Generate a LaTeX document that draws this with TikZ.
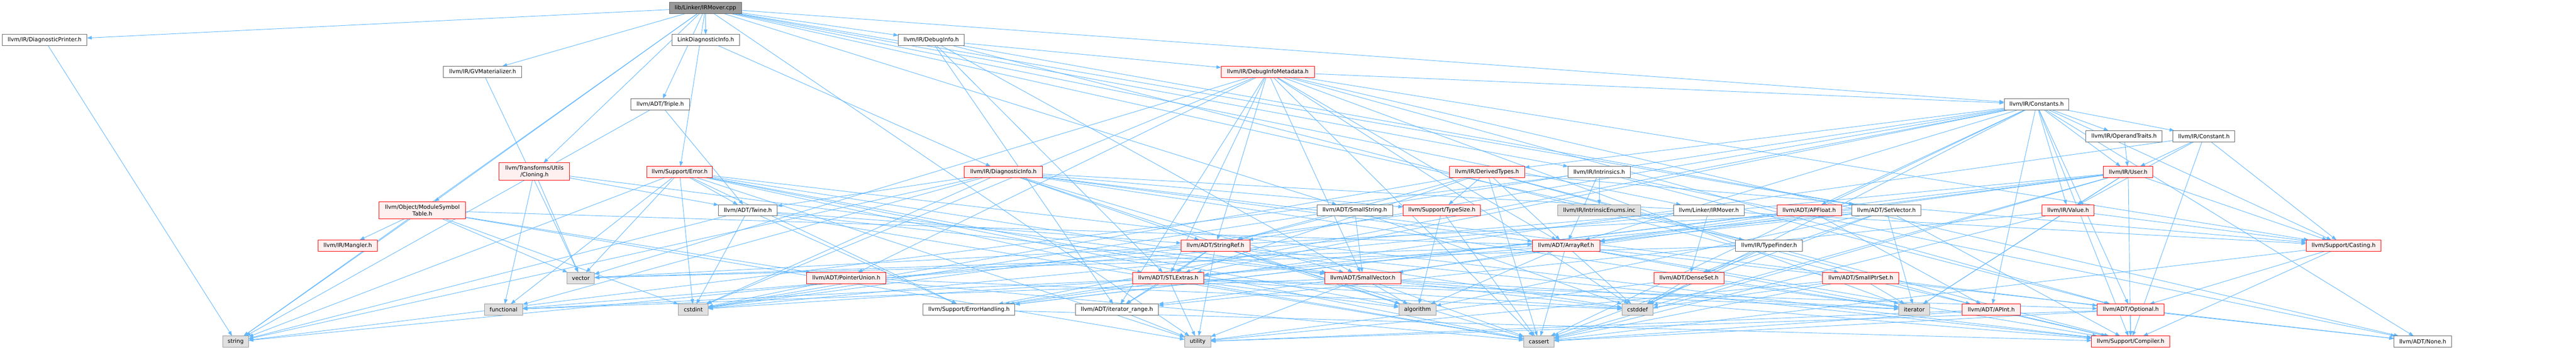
\documentclass[tikz,border=0pt]{standalone}
\usepackage{fontspec}
\setmainfont{DejaVu Sans}
\usetikzlibrary{arrows.meta,backgrounds}
\newlength{\du}
\setlength{\du}{1pt}
\newcommand{\diafont}{\fontsize{12.8}{15}\selectfont}

\begin{document}
\begin{tikzpicture}[even odd rule,
  diabox/.style={rectangle,inner sep=0pt,outer sep=0pt,minimum height=26\du,line width=1.2\du,font=\diafont,text=black,align=center},
  diafile/.style={diabox,draw=dialinecolor,fill=white},
  diatrunc/.style={diabox,draw=diatrunccolor,fill=diatruncfill},
  diasys/.style={diabox,draw=diasysline,fill=diasysfill},
  diaroot/.style={diabox,draw=dialinecolor,fill=diarootfill},
  diaedge/.style={draw=diaedgecolor,line width=1.1pt,-{Triangle[length=11pt,width=8pt]}}]
\pgftransformxscale{1.000000}
\pgftransformyscale{-1.000000}
\definecolor{dialinecolor}{rgb}{0.400000, 0.400000, 0.400000}
\definecolor{diaedgecolor}{rgb}{0.388235, 0.721569, 1.000000}
\definecolor{diatrunccolor}{rgb}{1.000000, 0.000000, 0.000000}
\definecolor{diatruncfill}{rgb}{1.000000, 0.941176, 0.941176}
\definecolor{diasysline}{rgb}{0.600000, 0.600000, 0.600000}
\definecolor{diasysfill}{rgb}{0.878431, 0.878431, 0.878431}
\definecolor{diarootfill}{rgb}{0.600000, 0.600000, 0.600000}
\useasboundingbox (0.000000\du,0.000000\du) rectangle (5919.000000\du,799.000000\du);
% row 0
\node[diaroot,minimum width=166\du] (cpp) at (1621.000000\du,18.000000\du){lib/Linker/IRMover.cpp};
% row 1
\node[diafile,minimum width=195\du] (diagprinter) at (102.500000\du,92.000000\du){llvm/IR/DiagnosticPrinter.h};
\node[diafile,minimum width=155\du] (linkdiag) at (1621.500000\du,92.000000\du){LinkDiagnosticInfo.h};
\node[diafile,minimum width=151\du] (debuginfo) at (2139.500000\du,92.000000\du){llvm/IR/DebugInfo.h};
% row 2
\node[diafile,minimum width=180\du] (gvmat) at (1109.000000\du,165.000000\du){llvm/IR/GVMaterializer.h};
\node[diatrunc,minimum width=214\du] (dimeta) at (2913.000000\du,165.000000\du){llvm/IR/DebugInfoMetadata.h};
% row 3
\node[diafile,minimum width=134\du] (triple) at (1517.000000\du,239.500000\du){llvm/ADT/Triple.h};
\node[diafile,minimum width=149\du] (constants) at (4679.500000\du,239.500000\du){llvm/IR/Constants.h};
\node[diafile,minimum width=175\du] (opertraits) at (4880.500000\du,313.000000\du){llvm/IR/OperandTraits.h};
\node[diafile,minimum width=142\du] (constant) at (5064.000000\du,313.000000\du){llvm/IR/Constant.h};
% row 4
\node[diatrunc,minimum width=162\du,minimum height=40\du] (cloning) at (1228.000000\du,394.000000\du){llvm/Transforms/Utils\\/Cloning.h};
\node[diatrunc,minimum width=151\du] (error) at (1561.500000\du,395.000000\du){llvm/Support/Error.h};
\node[diatrunc,minimum width=179\du] (diaginfo) at (2305.500000\du,395.000000\du){llvm/IR/DiagnosticInfo.h};
\node[diatrunc,minimum width=172\du] (derived) at (3417.000000\du,395.000000\du){llvm/IR/DerivedTypes.h};
\node[diafile,minimum width=143\du] (intrinsics) at (3674.500000\du,395.000000\du){llvm/IR/Intrinsics.h};
\node[diatrunc,minimum width=114\du] (user) at (4890.000000\du,395.000000\du){llvm/IR/User.h};
% row 5
\node[diatrunc,minimum width=199\du,minimum height=40\du] (modsymtab) at (970.500000\du,483.000000\du){llvm/Object/ModuleSymbol\\Table.h};
\node[diafile,minimum width=135\du] (twine) at (1718.500000\du,483.000000\du){llvm/ADT/Twine.h};
\node[diafile,minimum width=174\du] (smallstring) at (3113.000000\du,483.000000\du){llvm/ADT/SmallString.h};
\node[diatrunc,minimum width=178\du] (typesize) at (3313.000000\du,483.000000\du){llvm/Support/TypeSize.h};
\node[diasys,minimum width=191\du] (intrenums) at (3674.500000\du,483.000000\du){llvm/IR/IntrinsicEnums.inc};
\node[diafile,minimum width=163\du] (irmoverh) at (3926.500000\du,483.000000\du){llvm/Linker/IRMover.h};
\node[diatrunc,minimum width=148\du] (apfloat) at (4157.000000\du,483.000000\du){llvm/ADT/APFloat.h};
\node[diafile,minimum width=159\du] (setvector) at (4334.500000\du,483.000000\du){llvm/ADT/SetVector.h};
\node[diatrunc,minimum width=120\du] (value) at (4752.000000\du,483.000000\du){llvm/IR/Value.h};
% row 6
\node[diatrunc,minimum width=136\du] (mangler) at (799.000000\du,564.000000\du){llvm/IR/Mangler.h};
\node[diatrunc,minimum width=158\du] (stringref) at (2793.000000\du,564.000000\du){llvm/ADT/StringRef.h};
\node[diatrunc,minimum width=155\du] (arrayref) at (3598.500000\du,564.000000\du){llvm/ADT/ArrayRef.h};
\node[diafile,minimum width=154\du] (typefinder) at (4065.000000\du,564.000000\du){llvm/IR/TypeFinder.h};
\node[diatrunc,minimum width=172\du] (casting) at (5385.000000\du,564.000000\du){llvm/Support/Casting.h};
% row 7
\node[diasys,minimum width=63\du] (vector) at (1334.500000\du,638.500000\du){vector};
\node[diatrunc,minimum width=183\du] (ptrunion) at (1944.500000\du,638.500000\du){llvm/ADT/PointerUnion.h};
\node[diatrunc,minimum width=163\du] (stlextras) at (2684.500000\du,638.500000\du){llvm/ADT/STLExtras.h};
\node[diatrunc,minimum width=175\du] (smallvector) at (3131.500000\du,638.500000\du){llvm/ADT/SmallVector.h};
\node[diatrunc,minimum width=160\du] (denseset) at (3881.000000\du,638.500000\du){llvm/ADT/DenseSet.h};
\node[diatrunc,minimum width=175\du] (smallptrset) at (4275.500000\du,638.500000\du){llvm/ADT/SmallPtrSet.h};
% row 8
\node[diasys,minimum width=88\du] (functional) at (1157.000000\du,711.000000\du){functional};
\node[diasys,minimum width=68\du] (cstdint) at (1593.000000\du,711.000000\du){cstdint};
\node[diafile,minimum width=211\du] (errhandling) at (2226.500000\du,711.000000\du){llvm/Support/ErrorHandling.h};
\node[diafile,minimum width=191\du] (iterrange) at (2566.500000\du,711.000000\du){llvm/ADT/iterator\_range.h};
\node[diasys,minimum width=86\du] (algorithm) at (3257.000000\du,711.000000\du){algorithm};
\node[diasys,minimum width=71\du] (cstddef) at (3762.500000\du,711.000000\du){cstddef};
\node[diasys,minimum width=71\du] (iterator) at (4398.500000\du,711.000000\du){iterator};
\node[diatrunc,minimum width=133\du] (apint) at (4575.500000\du,711.000000\du){llvm/ADT/APInt.h};
\node[diatrunc,minimum width=154\du] (optional) at (4896.000000\du,711.000000\du){llvm/ADT/Optional.h};
% row 9
\node[diasys,minimum width=59\du] (string) at (541.500000\du,784.500000\du){string};
\node[diasys,minimum width=60\du] (utility) at (2752.000000\du,784.500000\du){utility};
\node[diasys,minimum width=70\du] (cassert) at (3536.000000\du,784.500000\du){cassert};
\node[diatrunc,minimum width=179\du] (compiler) at (4895.500000\du,784.500000\du){llvm/Support/Compiler.h};
\node[diafile,minimum width=132\du] (none) at (5567.000000\du,784.500000\du){llvm/ADT/None.h};
\begin{pgfonlayer}{background}
% lib/Linker/IRMover.cpp
\draw[diaedge] (cpp)--(diagprinter); \draw[diaedge] (cpp)--(linkdiag); \draw[diaedge] (cpp)--(debuginfo); \draw[diaedge] (cpp)--(gvmat);
\draw[diaedge] (cpp)--(triple); \draw[diaedge] (cpp)--(constants); \draw[diaedge] (cpp)--(cloning); \draw[diaedge] (cpp)--(error);
\draw[diaedge] (cpp)--(intrinsics); \draw[diaedge] (cpp)--(modsymtab); \draw[diaedge] (cpp)--(smallstring); \draw[diaedge] (cpp)--(irmoverh);
\draw[diaedge] (cpp)--(setvector); \draw[diaedge] (cpp)--(typefinder); \draw[diaedge] (cpp)--(string); \draw[diaedge] (cpp)--(utility);
% row 1 and 2
\draw[diaedge] (diagprinter)--(string);
\draw[diaedge] (linkdiag)--(diaginfo);
\draw[diaedge] (debuginfo)--(dimeta); \draw[diaedge] (debuginfo)--(setvector); \draw[diaedge] (debuginfo)--(smallptrset);
\draw[diaedge] (debuginfo)--(smallvector); \draw[diaedge] (debuginfo)--(stlextras); \draw[diaedge] (debuginfo)--(iterrange);
\draw[diaedge] (gvmat)--(vector);
\draw[diaedge] (dimeta)--(constants); \draw[diaedge] (dimeta)--(arrayref); \draw[diaedge] (dimeta)--(none); \draw[diaedge] (dimeta)--(optional);
\draw[diaedge] (dimeta)--(ptrunion); \draw[diaedge] (dimeta)--(stlextras); \draw[diaedge] (dimeta)--(smallvector); \draw[diaedge] (dimeta)--(stringref);
\draw[diaedge] (dimeta)--(iterrange); \draw[diaedge] (dimeta)--(casting); \draw[diaedge] (dimeta)--(cassert); \draw[diaedge] (dimeta)--(cstddef);
\draw[diaedge] (dimeta)--(cstdint); \draw[diaedge] (dimeta)--(iterator); \draw[diaedge] (dimeta)--(vector);
% row 3
\draw[diaedge] (triple)--(twine); \draw[diaedge] (triple)--(string);
\draw[diaedge] (constants)--(constant); \draw[diaedge] (constants)--(opertraits); \draw[diaedge] (constants)--(derived); \draw[diaedge] (constants)--(user);
\draw[diaedge] (constants)--(value); \draw[diaedge] (constants)--(apfloat); \draw[diaedge] (constants)--(apint); \draw[diaedge] (constants)--(arrayref);
\draw[diaedge] (constants)--(none); \draw[diaedge] (constants)--(optional); \draw[diaedge] (constants)--(stlextras); \draw[diaedge] (constants)--(stringref);
\draw[diaedge] (constants)--(casting); \draw[diaedge] (constants)--(compiler); \draw[diaedge] (constants)--(errhandling); \draw[diaedge] (constants)--(cassert);
\draw[diaedge] (constants)--(cstddef); \draw[diaedge] (constants)--(cstdint);
\draw[diaedge] (opertraits)--(user);
\draw[diaedge] (constant)--(user); \draw[diaedge] (constant)--(value); \draw[diaedge] (constant)--(casting); \draw[diaedge] (constant)--(compiler);
\draw[diaedge] (constant)--(errhandling);
% row 4
\draw[diaedge] (cloning)--(smallvector); \draw[diaedge] (cloning)--(twine); \draw[diaedge] (cloning)--(functional); \draw[diaedge] (cloning)--(vector);
\draw[diaedge] (error)--(stlextras); \draw[diaedge] (error)--(smallvector); \draw[diaedge] (error)--(twine); \draw[diaedge] (error)--(compiler);
\draw[diaedge] (error)--(errhandling); \draw[diaedge] (error)--(algorithm); \draw[diaedge] (error)--(cassert); \draw[diaedge] (error)--(cstdint);
\draw[diaedge] (error)--(functional); \draw[diaedge] (error)--(string); \draw[diaedge] (error)--(utility); \draw[diaedge] (error)--(vector);
\draw[diaedge] (diaginfo)--(arrayref); \draw[diaedge] (diaginfo)--(optional); \draw[diaedge] (diaginfo)--(smallvector); \draw[diaedge] (diaginfo)--(stringref);
\draw[diaedge] (diaginfo)--(twine); \draw[diaedge] (diaginfo)--(casting); \draw[diaedge] (diaginfo)--(typesize); \draw[diaedge] (diaginfo)--(algorithm);
\draw[diaedge] (diaginfo)--(cstdint); \draw[diaedge] (diaginfo)--(functional); \draw[diaedge] (diaginfo)--(iterator); \draw[diaedge] (diaginfo)--(string);
\draw[diaedge] (derived)--(apint); \draw[diaedge] (derived)--(arrayref); \draw[diaedge] (derived)--(stlextras); \draw[diaedge] (derived)--(stringref);
\draw[diaedge] (derived)--(casting); \draw[diaedge] (derived)--(compiler); \draw[diaedge] (derived)--(typesize); \draw[diaedge] (derived)--(cassert);
\draw[diaedge] (derived)--(cstdint);
\draw[diaedge] (intrinsics)--(arrayref); \draw[diaedge] (intrinsics)--(none); \draw[diaedge] (intrinsics)--(optional); \draw[diaedge] (intrinsics)--(intrenums);
\draw[diaedge] (intrinsics)--(string);
\draw[diaedge] (user)--(arrayref); \draw[diaedge] (user)--(iterrange); \draw[diaedge] (user)--(value); \draw[diaedge] (user)--(casting);
\draw[diaedge] (user)--(compiler); \draw[diaedge] (user)--(errhandling); \draw[diaedge] (user)--(cassert); \draw[diaedge] (user)--(cstddef);
\draw[diaedge] (user)--(cstdint); \draw[diaedge] (user)--(iterator);
% row 5
\draw[diaedge] (modsymtab)--(arrayref); \draw[diaedge] (modsymtab)--(ptrunion); \draw[diaedge] (modsymtab)--(mangler); \draw[diaedge] (modsymtab)--(cstdint);
\draw[diaedge] (modsymtab)--(string); \draw[diaedge] (modsymtab)--(utility); \draw[diaedge] (modsymtab)--(vector);
\draw[diaedge] (twine)--(smallvector); \draw[diaedge] (twine)--(stringref); \draw[diaedge] (twine)--(errhandling); \draw[diaedge] (twine)--(cassert);
\draw[diaedge] (twine)--(cstdint); \draw[diaedge] (twine)--(string);
\draw[diaedge] (smallstring)--(smallvector); \draw[diaedge] (smallstring)--(stringref); \draw[diaedge] (smallstring)--(cstddef);
\draw[diaedge] (typesize)--(algorithm); \draw[diaedge] (typesize)--(cassert); \draw[diaedge] (typesize)--(cstdint);
\draw[diaedge] (irmoverh)--(denseset); \draw[diaedge] (irmoverh)--(functional);
\draw[diaedge] (apfloat)--(apint); \draw[diaedge] (apfloat)--(arrayref); \draw[diaedge] (apfloat)--(errhandling);
\draw[diaedge] (setvector)--(arrayref); \draw[diaedge] (setvector)--(denseset); \draw[diaedge] (setvector)--(stlextras); \draw[diaedge] (setvector)--(compiler);
\draw[diaedge] (setvector)--(algorithm); \draw[diaedge] (setvector)--(cassert); \draw[diaedge] (setvector)--(iterator); \draw[diaedge] (setvector)--(vector);
\draw[diaedge] (value)--(iterrange); \draw[diaedge] (value)--(casting); \draw[diaedge] (value)--(cassert); \draw[diaedge] (value)--(iterator);
% row 6
\draw[diaedge] (stringref)--(stlextras); \draw[diaedge] (stringref)--(iterrange); \draw[diaedge] (stringref)--(compiler); \draw[diaedge] (stringref)--(algorithm);
\draw[diaedge] (stringref)--(cassert); \draw[diaedge] (stringref)--(cstddef); \draw[diaedge] (stringref)--(string); \draw[diaedge] (stringref)--(utility);
\draw[diaedge] (arrayref)--(none); \draw[diaedge] (arrayref)--(smallvector); \draw[diaedge] (arrayref)--(stlextras); \draw[diaedge] (arrayref)--(compiler);
\draw[diaedge] (arrayref)--(algorithm); \draw[diaedge] (arrayref)--(cassert); \draw[diaedge] (arrayref)--(cstddef); \draw[diaedge] (arrayref)--(iterator);
\draw[diaedge] (arrayref)--(vector);
\draw[diaedge] (typefinder)--(denseset); \draw[diaedge] (typefinder)--(cstddef); \draw[diaedge] (typefinder)--(vector);
\draw[diaedge] (casting)--(optional); \draw[diaedge] (casting)--(compiler); \draw[diaedge] (casting)--(cassert);
% row 7
\draw[diaedge] (ptrunion)--(cassert); \draw[diaedge] (ptrunion)--(cstddef); \draw[diaedge] (ptrunion)--(cstdint);
\draw[diaedge] (stlextras)--(optional); \draw[diaedge] (stlextras)--(iterrange); \draw[diaedge] (stlextras)--(errhandling); \draw[diaedge] (stlextras)--(algorithm);
\draw[diaedge] (stlextras)--(cassert); \draw[diaedge] (stlextras)--(cstddef); \draw[diaedge] (stlextras)--(cstdint); \draw[diaedge] (stlextras)--(functional);
\draw[diaedge] (stlextras)--(iterator); \draw[diaedge] (stlextras)--(utility);
\draw[diaedge] (smallvector)--(compiler); \draw[diaedge] (smallvector)--(algorithm); \draw[diaedge] (smallvector)--(cassert); \draw[diaedge] (smallvector)--(cstddef);
\draw[diaedge] (smallvector)--(functional); \draw[diaedge] (smallvector)--(iterator); \draw[diaedge] (smallvector)--(utility);
\draw[diaedge] (denseset)--(cstddef); \draw[diaedge] (denseset)--(iterator); \draw[diaedge] (denseset)--(utility);
\draw[diaedge] (smallptrset)--(compiler); \draw[diaedge] (smallptrset)--(cassert); \draw[diaedge] (smallptrset)--(cstddef); \draw[diaedge] (smallptrset)--(iterator);
\draw[diaedge] (smallptrset)--(utility);
% row 8
\draw[diaedge] (errhandling)--(compiler);
\draw[diaedge] (iterrange)--(utility);
\draw[diaedge] (apint)--(compiler); \draw[diaedge] (apint)--(cassert); \draw[diaedge] (apint)--(utility);
\draw[diaedge] (optional)--(none); \draw[diaedge] (optional)--(compiler); \draw[diaedge] (optional)--(cassert); \draw[diaedge] (optional)--(utility);
\end{pgfonlayer}
\end{tikzpicture}
\end{document}
